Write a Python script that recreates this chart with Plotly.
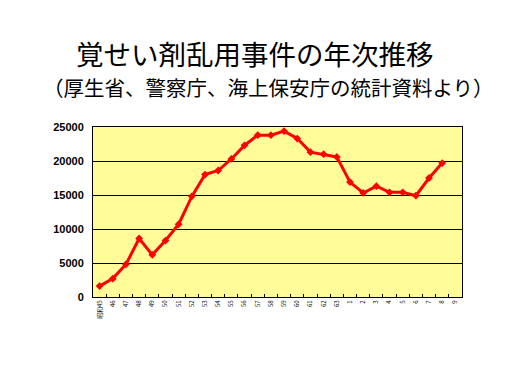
import plotly.graph_objects as go

categories = ["昭和45"] + [str(i) for i in range(46, 64)] + [str(i) for i in range(1, 10)]
values = [1600, 2700, 4800, 8600, 6200, 8300, 10700, 14800, 18000, 18600,
          20300, 22300, 23800, 23800, 24400, 23300, 21300, 21000, 20600, 16900,
          15300, 16300, 15400, 15400, 14900, 17500, 19700]
y_ticks = [0, 5000, 10000, 15000, 20000, 25000]

title = "覚せい剤乱用事件の年次推移"
subtitle = "（厚生省、警察庁、海上保安庁の統計資料より）"

L, R, T, B = 93, 50, 127, 87
W, H = 512, 384
pw, ph = W - L - R, H - T - B

def px(x):
    return (x - L) / pw

def py(y):
    return (H - B - y) / ph

fig = go.Figure()
fig.add_trace(go.Scatter(
    x=categories[:len(values)], y=values, mode="lines+markers",
    line=dict(color="#FF0000", width=3),
    marker=dict(symbol="diamond", size=6, color="#FF0000"),
    showlegend=False,
))

fig.update_layout(
    width=W, height=H,
    margin=dict(l=L, r=R, t=T, b=B),
    paper_bgcolor="white",
    plot_bgcolor="#FFFC99",
    font=dict(family="Noto Sans CJK JP", color="black"),
    annotations=[
        dict(text=title, x=px(255), y=py(53), xref="paper", yref="paper", showarrow=False,
             xanchor="center", yanchor="middle",
             font=dict(size=27.5, family="Noto Sans CJK JP", color="black")),
        dict(text=subtitle, x=px(268), y=py(86.5), xref="paper", yref="paper", showarrow=False,
             xanchor="center", yanchor="middle",
             font=dict(size=20.5, family="Noto Sans CJK JP", color="black")),
    ],
)

fig.update_xaxes(
    type="category", categoryorder="array", categoryarray=categories,
    tickvals=categories, ticktext=categories,
    range=[-0.5, len(categories) - 0.5],
    tickangle=-90, tickfont=dict(size=6, family="Noto Sans CJK JP", color="black"),
    ticks="inside", ticklen=3, tickcolor="black", tickson="boundaries",
    showline=True, linecolor="black", linewidth=1, mirror=True,
    showgrid=False, zeroline=False, automargin=False,
)
fig.update_yaxes(
    range=[0, 25000], tickvals=y_ticks, ticktext=[str(v) for v in y_ticks],
    tickfont=dict(size=11, family="Liberation Sans", color="black", weight="bold"),
    showgrid=True, gridcolor="black", gridwidth=1,
    showline=True, linecolor="black", linewidth=1, mirror=True,
    zeroline=False, ticks="", ticklabelstandoff=6, automargin=False,
)

fig.write_html("out.html", config={"displayModeBar": False},
               post_script="document.body.style.margin='0';")
